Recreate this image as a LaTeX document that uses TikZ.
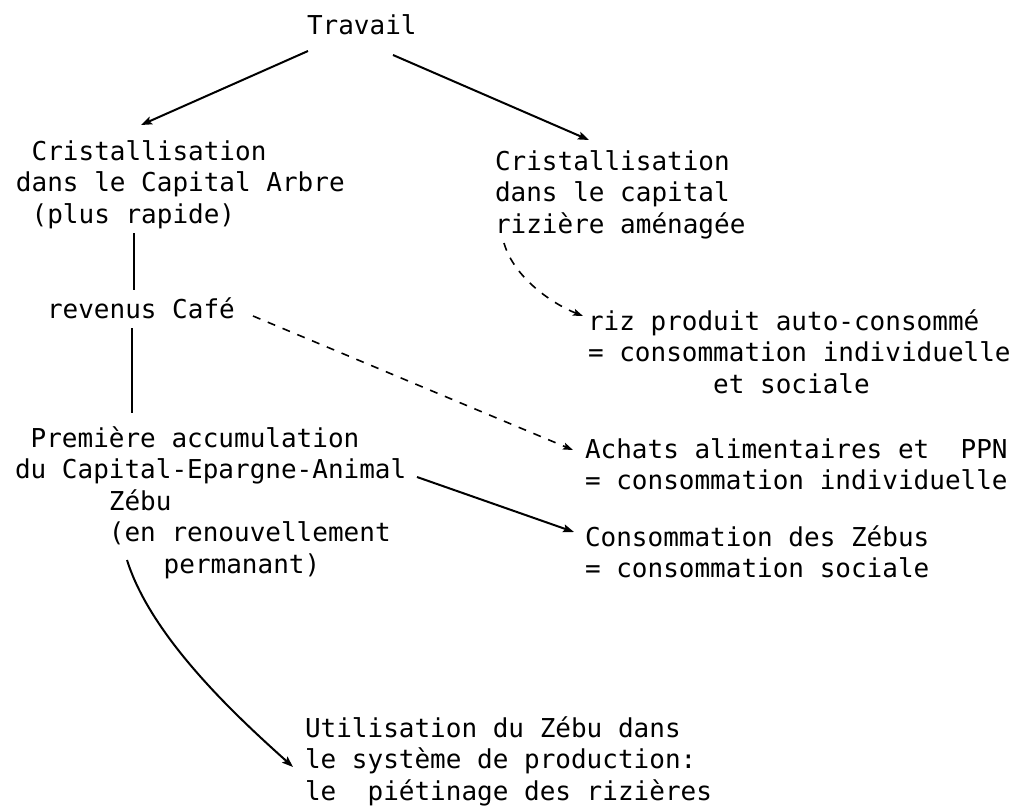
\documentclass[tikz,border=0pt]{standalone}
\usepackage{fontspec}
\setmonofont{DejaVu Sans Mono}
\usetikzlibrary{arrows.meta,calc}

% width of one typewriter cell, used for indents
\newlength\cw
\newcommand\ind[1]{\hspace*{#1\cw}}
% a block of left-aligned lines whose baseline is the first line
\newcommand\blk[1]{\begin{tabular}[t]{@{}l@{}}#1\end{tabular}}

\begin{document}
\ttfamily\fontsize{26}{31.5}\selectfont
\settowidth\cw{M}%
\begin{tikzpicture}[x=1pt,y=-1pt,
  txt/.style={anchor=base west,inner sep=0pt,outer sep=0pt,
    font=\ttfamily\fontsize{26}{31.5}\selectfont},
  arr/.style={line width=2pt,-{Stealth[length=11pt,width=8pt,inset=2pt]}},
  dasharr/.style={line width=1.6pt,dash pattern=on 8pt off 8pt,
    -{Stealth[length=10pt,width=7pt,inset=2pt]}},
  link/.style={line width=2.4pt}]

\fill[white] (0,0) rectangle (1019,811);
\useasboundingbox (0,0) rectangle (1019,811);

% text blocks
\node[txt] (trav)   at (307,34)  {\blk{Travail}};
\node[txt] (crisA)  at (16,160)  {\blk{\ind1Cristallisation\\dans le Capital Arbre\\\ind1(plus rapide)}};
\node[txt] (crisR)  at (495,170) {\blk{Cristallisation\\dans le capital\\rizière aménagée}};
\node[txt] (cafe)   at (47,318)  {\blk{revenus Café}};
\node[txt] (zebu)   at (15,447)  {\blk{\ind1Première accumulation\\du Capital-Epargne-Animal\\\ind6Zébu\\\ind6(en renouvellement\\\ind{9.5}permanant)}};
\node[txt] (riz)    at (588,330) {\blk{riz produit auto-consommé\\= consommation individuelle\\\ind8et sociale}};
\node[txt] (achats) at (585,458) {\blk{Achats alimentaires et\ \ PPN\\= consommation individuelle}};
\node[txt] (conso)  at (585,546) {\blk{Consommation des Zébus\\= consommation sociale}};
\node[txt] (util)   at (305,737) {\blk{Utilisation du Zébu dans\\le système de production:\\le\ \ piétinage des rizières}};

% connectors (offsets in the picture's own units, y pointing down)
\draw[arr] ($(trav.base west)+(1,17)$) -- ($(crisA.base west)+(125,-35)$);
\draw[arr] ($(trav.base west)+(86,21)$) -- ($(crisR.base west)+(94,-30)$);

\draw[link] ($(crisA.base west)+(118,73)$) -- ($(cafe.base west)+(87,-28)$);
\draw[link] ($(cafe.base west)+(85,10)$) -- ($(zebu.base west)+(117,-34)$);

\draw[dasharr] ($(crisR.base west)+(9,73)$)
  .. controls +(10,35) and +(-30,-12) .. ($(riz.base west)+(-5,-14)$);
\draw[dasharr] ($(cafe.base west)+(206,-2)$) -- ($(achats.base west)+(-12,-8)$);

\draw[arr] ($(zebu.base west)+(402,30)$) -- ($(conso.base west)+(-11,-14)$);
\draw[arr] ($(zebu.base west)+(112,113)$)
  .. controls +(25,80) and +(-50,-45) .. ($(util.base west)+(-12,30)$);
\end{tikzpicture}
\end{document}
